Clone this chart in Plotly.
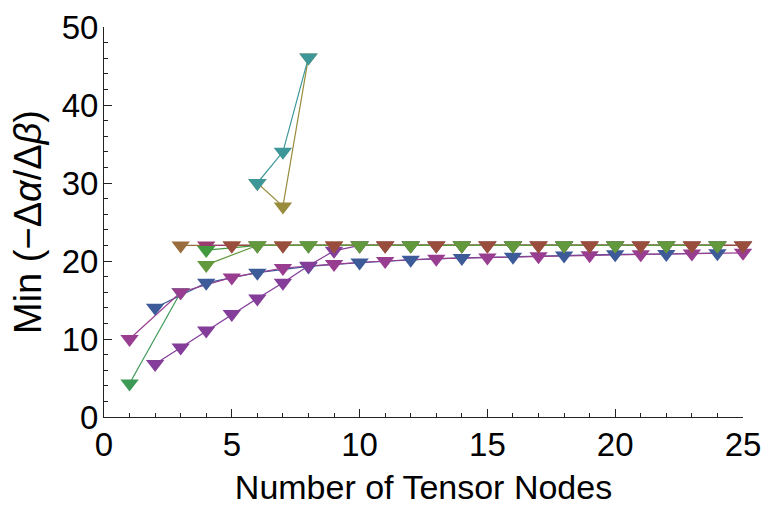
import plotly.graph_objects as go

# ---------------- data ----------------
x_odd = [1, 3, 5, 7, 9, 11, 13, 15, 17, 19, 21, 23, 25]
x_even = [2, 4, 6, 8, 10, 12, 14, 16, 18, 20, 22, 24]

magenta_y = [10.0, 16.0, 17.9, 19.1, 19.6, 20.0, 20.3, 20.45, 20.6, 20.75, 20.85, 20.95, 21.05]
blue_y = [14.0, 17.2, 18.5, 19.3, 19.8, 20.15, 20.4, 20.55, 20.7, 20.85, 20.9, 21.0]

purple_x = list(range(2, 26))
purple_y = [6.8, 8.9, 11.1, 13.2, 15.2, 17.2, 19.4, 21.3] + [22.0] * 16

green_low_x = [1, 3]
green_low_y = [4.3, 16.0]

mustard_x = x_odd[1:]
mustard_y = [22.0] * len(mustard_x)
pink_x = x_even[1:]
pink_y = [22.0] * len(pink_x)
redbrown_x = x_odd[2:]
redbrown_y = [22.0] * len(redbrown_x)
brightgreen_x = x_even[1:]
brightgreen_y = [21.4] + [22.0] * (len(brightgreen_x) - 1)
olivegreen_x = x_even[1:]
olivegreen_y = [19.5] + [22.0] * (len(olivegreen_x) - 1)

teal_x = [6, 7, 8]
teal_y = [30.0, 34.0, 46.1]
olive_x = [6, 7, 8]
olive_y = [30.0, 27.0, 46.1]

x_ticks = [0, 5, 10, 15, 20, 25]
y_ticks = [0, 10, 20, 30, 40, 50]

# ---------------- styles ----------------
C = {
    "purple": "rgb(132,61,153)",
    "magenta": "rgb(153,61,144)",
    "blue": "rgb(61,90,153)",
    "green_low": "rgb(61,153,86)",
    "brightgreen": "rgb(67,153,61)",
    "olivegreen": "rgb(98,153,61)",
    "teal": "rgb(61,151,153)",
    "olive": "rgb(153,140,61)",
    "mustard": "rgb(153,109,61)",
    "redbrown": "rgb(153,78,61)",
    "pink": "rgb(153,61,113)",
}

series = [
    ("purple", purple_x, purple_y),
    ("green_low", green_low_x, green_low_y),
    ("blue", x_even, blue_y),
    ("magenta", x_odd, magenta_y),
    ("mustard", mustard_x, mustard_y),
    ("pink", pink_x, pink_y),
    ("redbrown", redbrown_x, redbrown_y),
    ("brightgreen", brightgreen_x, brightgreen_y),
    ("olivegreen", olivegreen_x, olivegreen_y),
    ("olive", olive_x, olive_y),
    ("teal", teal_x, teal_y),
]

marker_order = ["green_low", "blue", "magenta", "purple", "mustard", "pink",
                "redbrown", "brightgreen", "olivegreen", "olive", "teal"]

fig = go.Figure()
for name, xs, ys in series:
    fig.add_trace(go.Scatter(x=xs, y=ys, mode="lines",
                             line=dict(color=C[name], width=1.2),
                             showlegend=False, hoverinfo="skip",
                             cliponaxis=False))
sd = {n: (xs, ys) for n, xs, ys in series}
for name in marker_order:
    xs, ys = sd[name]
    fig.add_trace(go.Scatter(x=xs, y=ys, mode="markers",
                             marker=dict(symbol="triangle-down", size=16,
                                         color=C[name], line=dict(width=0)),
                             showlegend=False, cliponaxis=False))

fam = "Liberation Sans, Arial, sans-serif"
tick_font = dict(family=fam, size=33, color="black")
xtitle_font = dict(family=fam, size=34, color="black")
ytitle_font = dict(family=fam, size=38, color="black")
fig.update_layout(
    width=763, height=506,
    margin=dict(l=104, r=20, t=27, b=89),
    paper_bgcolor="white", plot_bgcolor="white",
    font=tick_font,
    xaxis=dict(range=[0, 25], tickvals=x_ticks, ticks="inside", ticklen=8,
               tickcolor="#222", showline=True, linecolor="#222", linewidth=1,
               showgrid=False, zeroline=False, tickfont=tick_font, automargin=False,
               ticklabelstandoff=-2, ticklabeloverflow="allow",
               minor=dict(dtick=1, ticks="inside", ticklen=4, tickcolor="#222"),
               title=dict(text="Number of Tensor Nodes", font=xtitle_font, standoff=14)),
    yaxis=dict(range=[0, 50], tickvals=y_ticks, ticks="inside", ticklen=8,
               tickcolor="#222", showline=True, linecolor="#222", linewidth=1,
               showgrid=False, zeroline=False, tickfont=tick_font, automargin=False,
               ticklabelstandoff=-2, ticklabeloverflow="allow",
               minor=dict(dtick=2, ticks="inside", ticklen=4, tickcolor="#222"),
               title=dict(text="Min (−Δ<i>α</i>/Δ<i>β</i>)", font=ytitle_font, standoff=8)),
)

fig.write_html("out.html",
               config={"displayModeBar": False},
               post_script="document.body.style.margin='0';document.body.style.overflow='hidden';")
